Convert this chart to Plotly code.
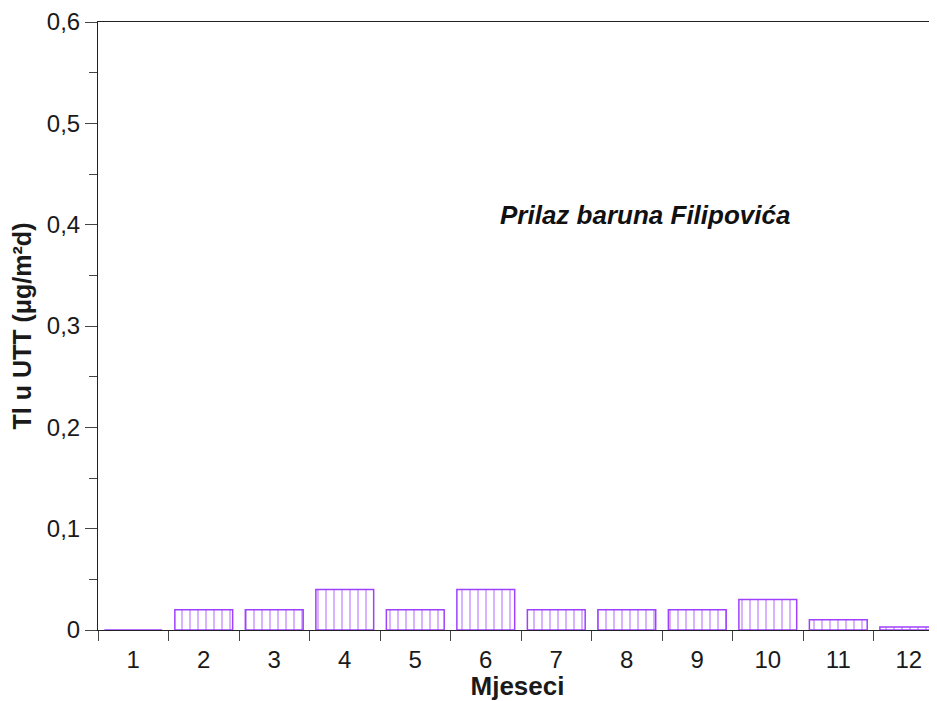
import plotly.graph_objects as go

# monthly values
months = ["1", "2", "3", "4", "5", "6", "7", "8", "9", "10", "11", "12"]
tl_values = [0.0, 0.02, 0.02, 0.04, 0.02, 0.04, 0.02, 0.02, 0.02, 0.03, 0.01, 0.003]

y_ticks = [0, 0.1, 0.2, 0.3, 0.4, 0.5, 0.6]
y_labels = ["0", "0,1", "0,2", "0,3", "0,4", "0,5", "0,6"]

purple = "#a040ff"
font_family = "Liberation Sans, Arial, sans-serif"

fig = go.Figure()
fig.add_trace(go.Bar(
    x=months, y=tl_values,
    marker=dict(
        color="white",
        line=dict(color=purple, width=1.5),
        pattern=dict(shape="|", fgcolor=purple, bgcolor="white", size=8, solidity=0.2),
    ),
))

# page body has an 8px margin, so the figure is 8px smaller than the window
fig.update_layout(
    width=929, height=693,
    margin=dict(l=90, r=0, t=14, b=71),
    plot_bgcolor="white", paper_bgcolor="white",
    showlegend=False,
    bargap=0.18,
    font=dict(family=font_family, size=24, color="#1a1a1a"),
    annotations=[dict(
        text="<b><i>Prilaz baruna Filipovića</i></b>",
        xref="paper", yref="paper", x=0.652, y=0.71,
        showarrow=False, font=dict(size=26, color="#111111"),
    )],
)
# the last month is cut slightly at the right edge in the original
fig.update_xaxes(
    type="category", tickson="boundaries", range=[-0.5, 11.4],
    showline=True, linecolor="#222222", linewidth=1, mirror=True,
    ticks="outside", ticklen=10, tickcolor="#444444",
    tickfont=dict(size=24), ticklabelstandoff=8,
    showgrid=False,
    title=dict(text="<b>Mjeseci</b>", font=dict(size=26), standoff=2),
)
fig.update_yaxes(
    range=[0, 0.6],
    tickvals=y_ticks, ticktext=y_labels,
    showline=True, linecolor="#222222", linewidth=1,
    ticks="outside", ticklen=12, tickcolor="#444444",
    tickfont=dict(size=24),
    minor=dict(dtick=0.05, ticks="outside", ticklen=8, tickcolor="#444444"),
    showgrid=False, zeroline=False,
    title=dict(text="<b>Tl u UTT (μg/m²d)</b>", font=dict(size=25), standoff=12),
)

fig.write_html("out.html")
